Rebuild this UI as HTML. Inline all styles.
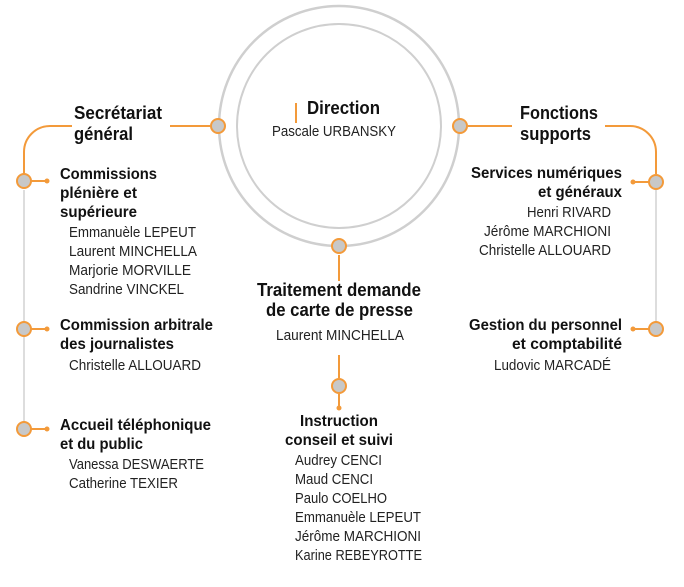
<!DOCTYPE html>
<html><head><meta charset="utf-8"><style>
html,body{margin:0;padding:0;background:#fff;width:684px;height:587px;overflow:hidden}
svg{display:block}
.b{font-family:"Liberation Sans Narrow","Liberation Sans",sans-serif;font-weight:bold;font-size:16px;fill:#111}
.h{font-family:"Liberation Sans Narrow","Liberation Sans",sans-serif;font-weight:bold;font-size:18px;fill:#111}
.n{font-family:"Liberation Sans Narrow","Liberation Sans",sans-serif;font-size:14.5px;fill:#222}
</style></head><body>
<svg width="684" height="587" viewBox="0 0 684 587" xmlns="http://www.w3.org/2000/svg">
<g fill="none">
<circle cx="339" cy="126" r="120" stroke="#cfcfcf" stroke-width="2.5"/>
<circle cx="339" cy="126" r="102" stroke="#cfcfcf" stroke-width="2"/>
<line x1="24" y1="190" x2="24" y2="422" stroke="#ddd" stroke-width="2"/>
<line x1="656" y1="190" x2="656" y2="322" stroke="#ddd" stroke-width="2"/>
<g stroke="#f39a3a" stroke-width="2">
<line x1="296" y1="103" x2="296" y2="123"/>
<line x1="170" y1="126" x2="210" y2="126"/>
<path d="M72 126 H50 A26 26 0 0 0 24 152 V174"/>
<line x1="468" y1="126" x2="512" y2="126"/>
<path d="M605 126 H630 A26 26 0 0 1 656 152 V174"/>
<line x1="339" y1="255" x2="339" y2="281"/>
<line x1="339" y1="355" x2="339" y2="378"/>
<line x1="339" y1="394" x2="339" y2="408"/>
<line x1="31" y1="181" x2="47" y2="181"/>
<line x1="31" y1="329" x2="47" y2="329"/>
<line x1="31" y1="429" x2="47" y2="429"/>
<line x1="633" y1="182" x2="649" y2="182"/>
<line x1="633" y1="329" x2="649" y2="329"/>
</g>
</g>
<g fill="#f39a3a">
<circle cx="47" cy="181" r="2.5"/><circle cx="47" cy="329" r="2.5"/><circle cx="47" cy="429" r="2.5"/>
<circle cx="633" cy="182" r="2.5"/><circle cx="633" cy="329" r="2.5"/><circle cx="339" cy="408" r="2.5"/>
</g>
<g fill="#c8c8c8" stroke="#f39a3a" stroke-width="2">
<circle cx="218" cy="126" r="7"/><circle cx="460" cy="126" r="7"/><circle cx="339" cy="246" r="7"/><circle cx="339" cy="386" r="7"/>
<circle cx="24" cy="181" r="7"/><circle cx="24" cy="329" r="7"/><circle cx="24" cy="429" r="7"/>
<circle cx="656" cy="182" r="7"/><circle cx="656" cy="329" r="7"/>
</g>

<text class="h" x="307" y="114" textLength="73" lengthAdjust="spacingAndGlyphs">Direction</text>
<text class="n" x="272" y="136" textLength="124" lengthAdjust="spacingAndGlyphs">Pascale URBANSKY</text>

<text class="h" x="74" y="119" textLength="88" lengthAdjust="spacingAndGlyphs">Secrétariat</text>
<text class="h" x="74" y="140" textLength="59" lengthAdjust="spacingAndGlyphs">général</text>
<text class="h" x="520" y="119" textLength="78" lengthAdjust="spacingAndGlyphs">Fonctions</text>
<text class="h" x="520" y="140" textLength="71" lengthAdjust="spacingAndGlyphs">supports</text>

<text class="b" x="60" y="179" textLength="97" lengthAdjust="spacingAndGlyphs">Commissions</text>
<text class="b" x="60" y="198" textLength="77" lengthAdjust="spacingAndGlyphs">plénière et</text>
<text class="b" x="60" y="217" textLength="77" lengthAdjust="spacingAndGlyphs">supérieure</text>
<text class="n" x="69" y="237" textLength="127" lengthAdjust="spacingAndGlyphs">Emmanuèle LEPEUT</text>
<text class="n" x="69" y="256" textLength="128" lengthAdjust="spacingAndGlyphs">Laurent MINCHELLA</text>
<text class="n" x="69" y="275" textLength="122" lengthAdjust="spacingAndGlyphs">Marjorie MORVILLE</text>
<text class="n" x="69" y="294" textLength="115" lengthAdjust="spacingAndGlyphs">Sandrine VINCKEL</text>

<text class="b" x="60" y="330" textLength="153" lengthAdjust="spacingAndGlyphs">Commission arbitrale</text>
<text class="b" x="60" y="349" textLength="114" lengthAdjust="spacingAndGlyphs">des journalistes</text>
<text class="n" x="69" y="370" textLength="132" lengthAdjust="spacingAndGlyphs">Christelle ALLOUARD</text>

<text class="b" x="60" y="430" textLength="151" lengthAdjust="spacingAndGlyphs">Accueil téléphonique</text>
<text class="b" x="60" y="449" textLength="83" lengthAdjust="spacingAndGlyphs">et du public</text>
<text class="n" x="69" y="469" textLength="135" lengthAdjust="spacingAndGlyphs">Vanessa DESWAERTE</text>
<text class="n" x="69" y="488" textLength="109" lengthAdjust="spacingAndGlyphs">Catherine TEXIER</text>

<text class="b" x="471" y="178" textLength="151" lengthAdjust="spacingAndGlyphs">Services numériques</text>
<text class="b" x="538" y="197" textLength="84" lengthAdjust="spacingAndGlyphs">et généraux</text>
<text class="n" x="527" y="217" textLength="84" lengthAdjust="spacingAndGlyphs">Henri RIVARD</text>
<text class="n" x="484" y="236" textLength="127" lengthAdjust="spacingAndGlyphs">Jérôme MARCHIONI</text>
<text class="n" x="479" y="255" textLength="132" lengthAdjust="spacingAndGlyphs">Christelle ALLOUARD</text>

<text class="b" x="469" y="330" textLength="153" lengthAdjust="spacingAndGlyphs">Gestion du personnel</text>
<text class="b" x="512" y="349" textLength="110" lengthAdjust="spacingAndGlyphs">et comptabilité</text>
<text class="n" x="494" y="370" textLength="117" lengthAdjust="spacingAndGlyphs">Ludovic MARCADÉ</text>

<text class="h" x="257" y="296" textLength="164" lengthAdjust="spacingAndGlyphs">Traitement demande</text>
<text class="h" x="266" y="316" textLength="147" lengthAdjust="spacingAndGlyphs">de carte de presse</text>
<text class="n" x="276" y="340" textLength="128" lengthAdjust="spacingAndGlyphs">Laurent MINCHELLA</text>

<text class="b" x="300" y="426" textLength="78" lengthAdjust="spacingAndGlyphs">Instruction</text>
<text class="b" x="285" y="445" textLength="108" lengthAdjust="spacingAndGlyphs">conseil et suivi</text>
<text class="n" x="295" y="465" textLength="87" lengthAdjust="spacingAndGlyphs">Audrey CENCI</text>
<text class="n" x="295" y="484" textLength="78" lengthAdjust="spacingAndGlyphs">Maud CENCI</text>
<text class="n" x="295" y="503" textLength="92" lengthAdjust="spacingAndGlyphs">Paulo COELHO</text>
<text class="n" x="295" y="522" textLength="126" lengthAdjust="spacingAndGlyphs">Emmanuèle LEPEUT</text>
<text class="n" x="295" y="541" textLength="126" lengthAdjust="spacingAndGlyphs">Jérôme MARCHIONI</text>
<text class="n" x="295" y="560" textLength="127" lengthAdjust="spacingAndGlyphs">Karine REBEYROTTE</text>
</svg>
</body></html>
